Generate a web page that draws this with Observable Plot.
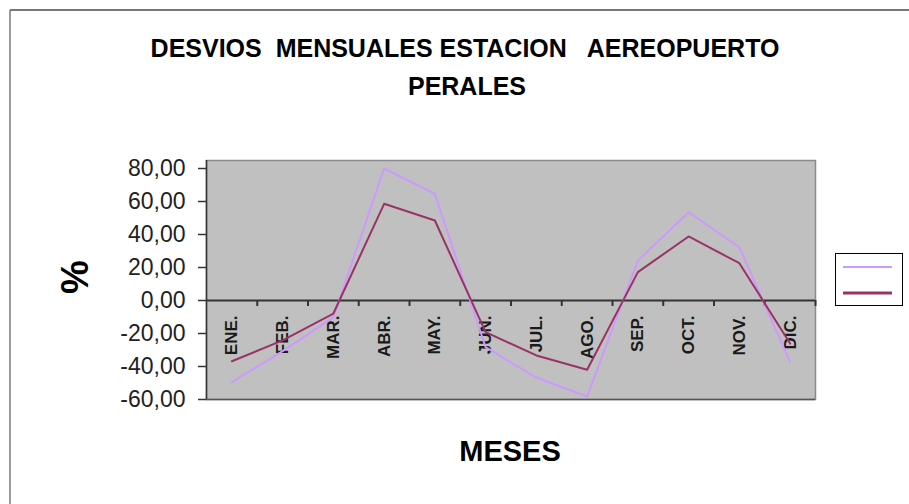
<!DOCTYPE html>
<html>
<head>
<meta charset="utf-8">
<script src="https://cdn.jsdelivr.net/npm/d3@7"></script>
<script src="https://cdn.jsdelivr.net/npm/@observablehq/plot@0.6"></script>
<style>
  html, body { margin: 0; padding: 0; background: #fff; }
  #wrap { position: relative; width: 909px; height: 504px; overflow: hidden; font-family: "Liberation Sans", Arial, sans-serif; }
  #legend { position: absolute; left: 835px; top: 253px; width: 66px; height: 51px; border: 1.5px solid #000; background: #fff; }
</style>
</head>
<body>
<div id="wrap"></div>
<script>
// ---- data ----
const titleLines = ["DESVIOS  MENSUALES ESTACION   AEREOPUERTO", "PERALES"];
const yLabel = "%";
const xLabel = "MESES";
const months = ["ENE.", "FEB.", "MAR.", "ABR.", "MAY.", "JUN.", "JUL.", "AGO.", "SEP.", "OCT.", "NOV.", "DIC."];
const serie1 = [-49.5, -30.7, -10.1, 80.0, 64.6, -28.3, -46.7, -58.2, 24.2, 53.5, 32.3, -37.4];
const serie2 = [-36.8, -24.2, -7.9, 58.6, 48.5, -19.2, -33.3, -42.0, 17.2, 38.8, 22.6, -26.1];
const seriesColors = ["#cc99ff", "#993366"];
const yTicks = [-60, -40, -20, 0, 20, 40, 60, 80];

const boundaries = months.map((m, i) => i + 0.5);
const fmt = d => d.toFixed(2).replace(".", ",");

const chart = Plot.plot({
  width: 909,
  height: 504,
  marginLeft: 206,
  marginRight: 94,
  marginTop: 160,
  marginBottom: 105,
  insetTop: 8,
  x: { domain: [-0.5, 11.5], axis: null },
  y: { domain: [-60, 80], axis: null },
  style: { fontFamily: "'Liberation Sans', Arial, sans-serif", background: "transparent", overflow: "visible" },
  marks: [
    Plot.frame({ fill: "#c0c0c0", stroke: "#8a8a8a", strokeWidth: 1.5 }),
    Plot.ruleY([0], { stroke: "#333", strokeWidth: 2 }),
    Plot.ruleX(boundaries, { x: d => d, y1: 0, y2: 0, insetBottom: -6, stroke: "#333", strokeWidth: 2 }),
    Plot.ruleX([-0.5], { stroke: "#333", strokeWidth: 1.5 }),
    Plot.ruleY([-60], { stroke: "#555", strokeWidth: 1.5 }),
    Plot.axisY({ ticks: yTicks, tickFormat: fmt, tickSize: 8, tickPadding: 13, fontSize: 23, stroke: "#333", strokeWidth: 1.5, fill: "#222" }),
    Plot.text(months, { x: (d, i) => i, y: 0, text: d => d, rotate: -90, textAnchor: "end", lineAnchor: "middle", dy: 15, fontSize: 17, fontWeight: "bold", fill: "#1a1a1a" }),
    Plot.line(serie1, { x: (d, i) => i, y: d => d, stroke: seriesColors[0], strokeWidth: 2 }),
    Plot.line(serie2, { x: (d, i) => i, y: d => d, stroke: seriesColors[1], strokeWidth: 2 })
  ]
});

const wrap = document.getElementById("wrap");
wrap.appendChild(chart);

const svg = d3.select(chart);
// outer chart border
svg.insert("line", ":first-child").attr("x1", 10).attr("x2", 909).attr("y1", 10).attr("y2", 10).attr("stroke", "#777").attr("stroke-width", 2);
svg.insert("line", ":first-child").attr("x1", 10).attr("x2", 10).attr("y1", 10).attr("y2", 504).attr("stroke", "#999").attr("stroke-width", 2);

// title
svg.append("text").attr("x", 465).attr("y", 57).attr("text-anchor", "middle")
  .attr("font-size", 25).attr("font-weight", "bold").attr("fill", "#000")
  .style("white-space", "pre").text(titleLines[0]);
svg.append("text").attr("x", 467).attr("y", 95).attr("text-anchor", "middle")
  .attr("font-size", 25).attr("font-weight", "bold").attr("fill", "#000")
  .text(titleLines[1]);

// axis titles
svg.append("text").attr("transform", "translate(88,277) rotate(-90)").attr("text-anchor", "middle")
  .attr("font-size", 38).attr("font-weight", "bold").attr("fill", "#000").text(yLabel);
svg.append("text").attr("x", 510).attr("y", 461).attr("text-anchor", "middle")
  .attr("font-size", 29).attr("font-weight", "bold").attr("fill", "#000").text(xLabel);

// legend (no labels in reference)
const legend = d3.select(wrap).append("div").attr("id", "legend");
const lsvg = legend.append("svg").attr("width", 66).attr("height", 51);
seriesColors.forEach((c, i) => {
  lsvg.append("line").attr("x1", 7).attr("x2", 56).attr("y1", 13 + i * 26).attr("y2", 13 + i * 26)
    .attr("stroke", c).attr("stroke-width", i === 0 ? 2 : 3);
});
</script>
</body>
</html>
